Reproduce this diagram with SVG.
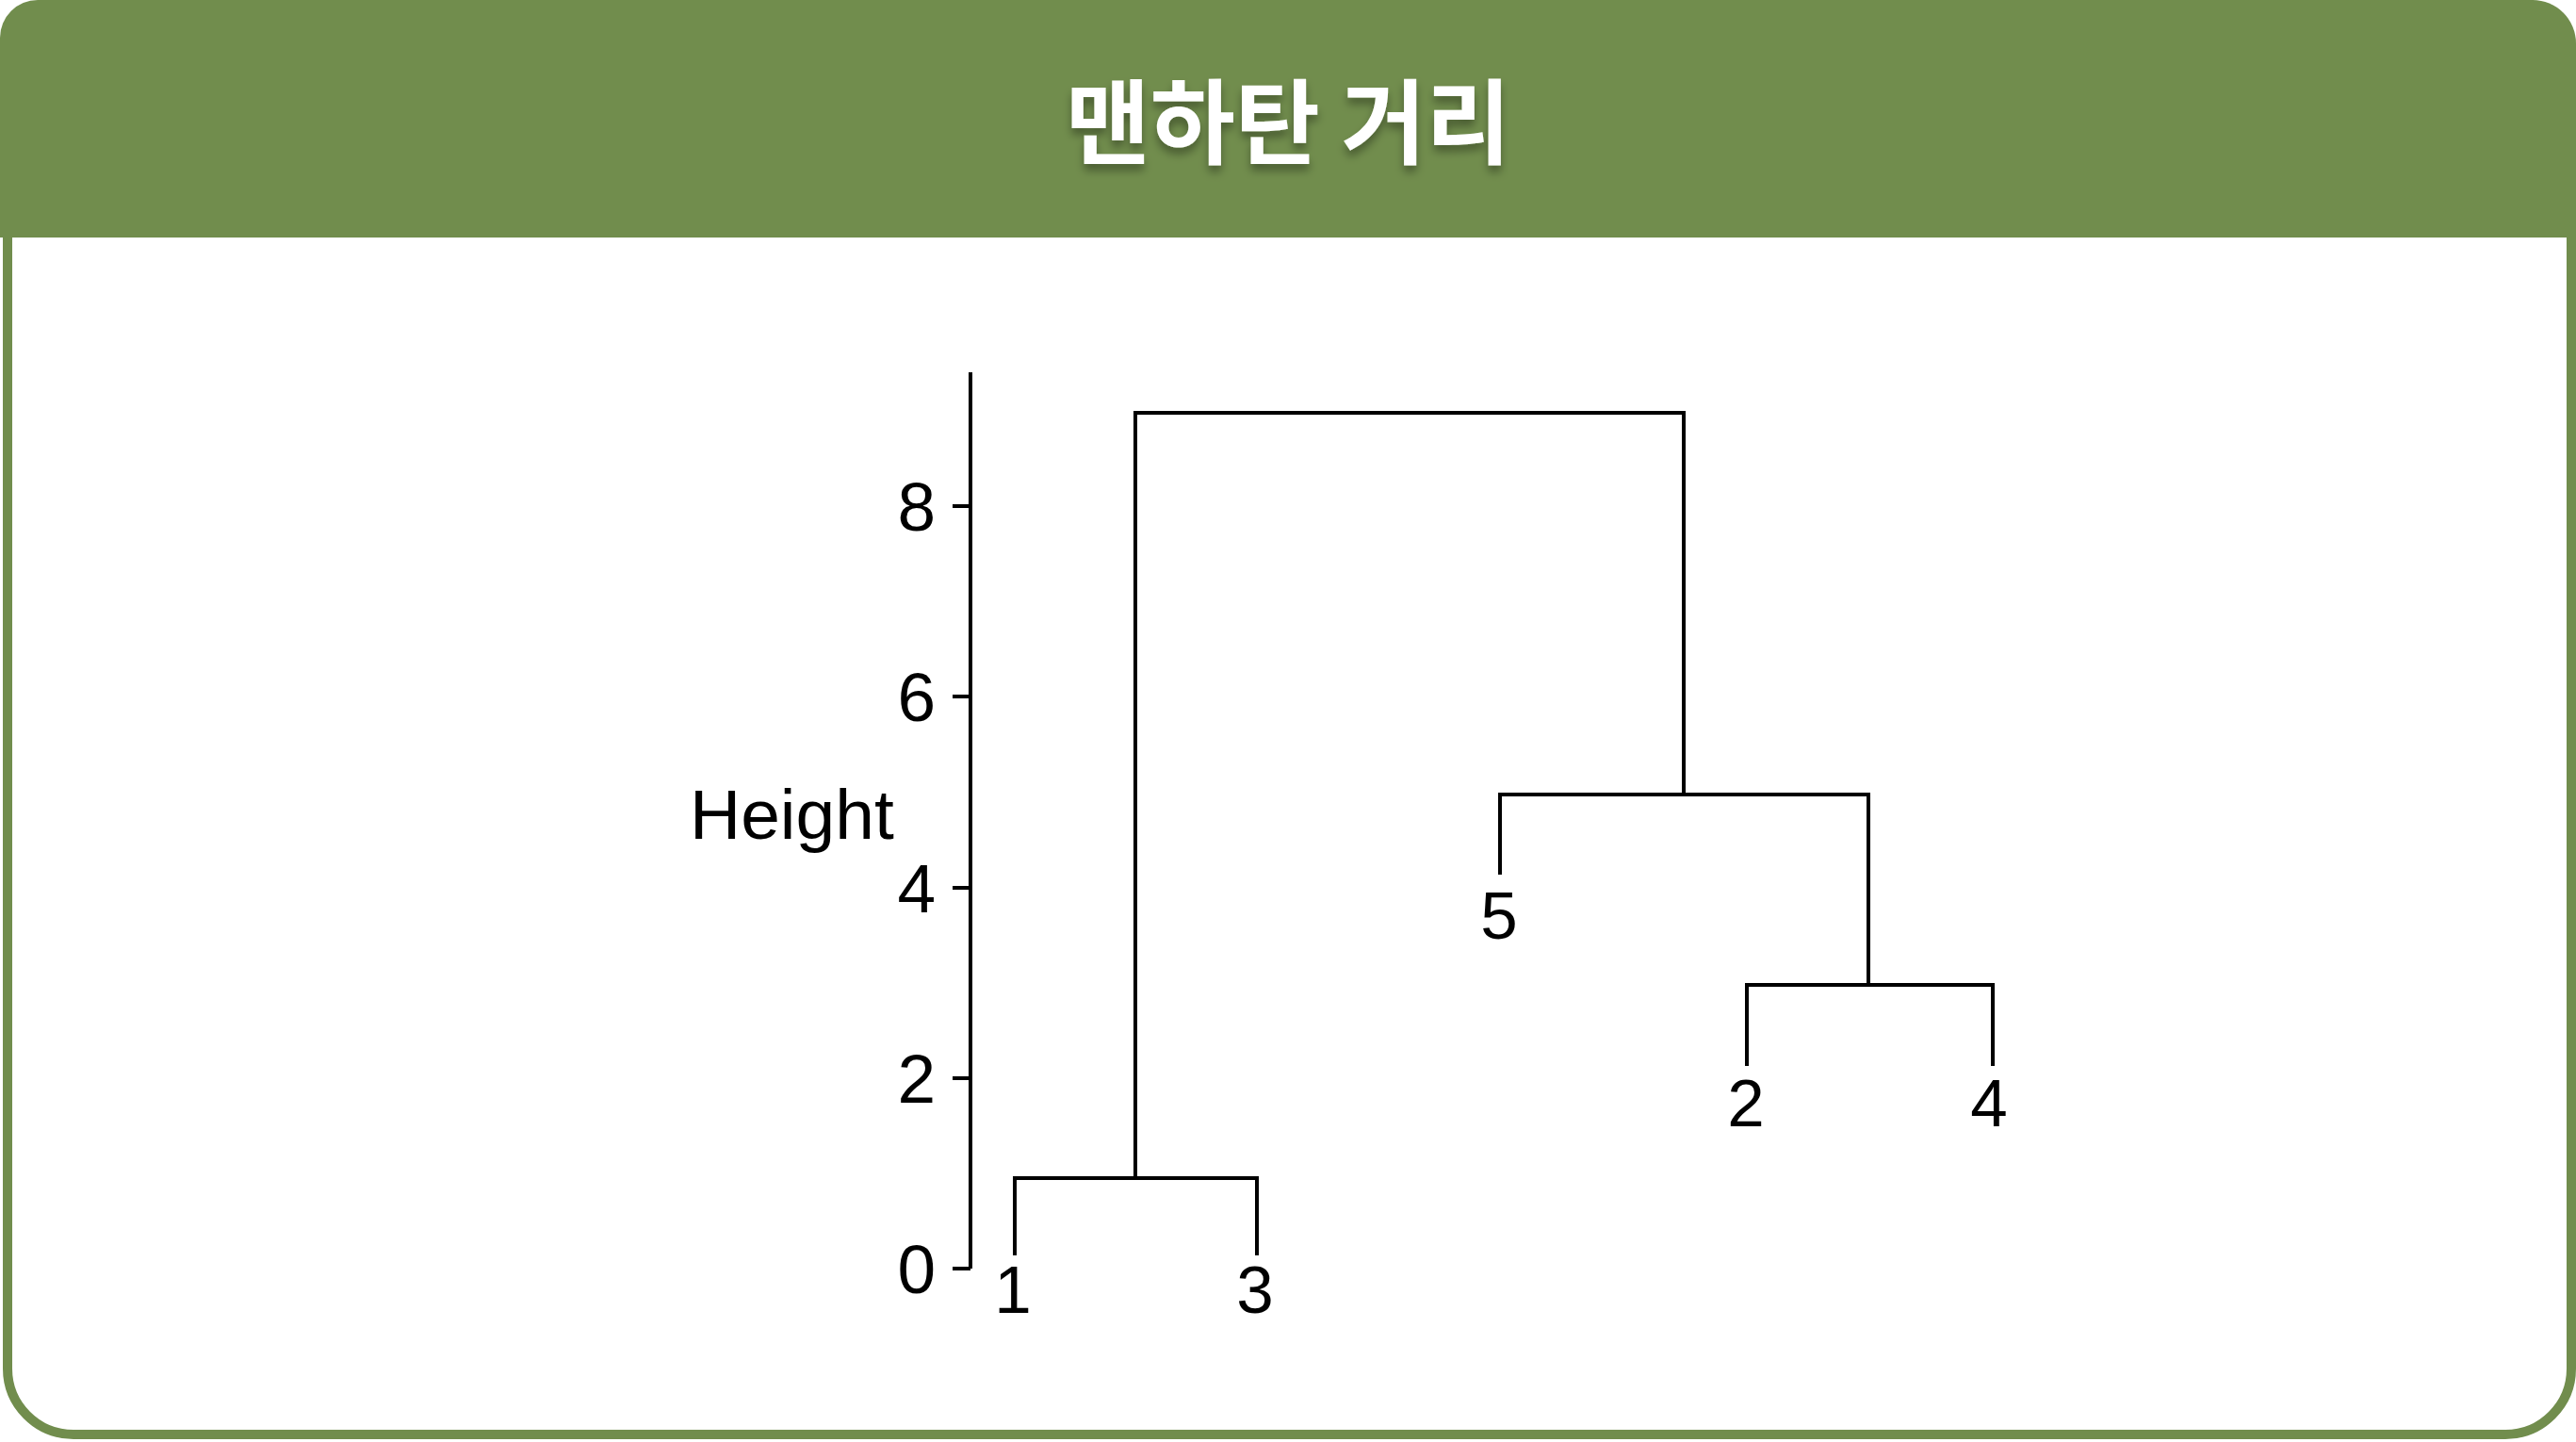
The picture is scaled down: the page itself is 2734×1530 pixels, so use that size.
<svg xmlns="http://www.w3.org/2000/svg" width="2734" height="1530" viewBox="0 0 2734 1530">
  <defs>
    <filter id="titleShadow" x="-10%" y="-30%" width="120%" height="180%">
      <feDropShadow dx="0" dy="7" stdDeviation="5" flood-color="#000000" flood-opacity="0.35"/>
    </filter>
  </defs>
  <style>
    .frame { fill: #ffffff; stroke: #718d4d; stroke-width: 10; }
    .header { fill: #718d4d; }
    .title { font-family: "Noto Sans CJK KR", "Noto Sans", sans-serif; font-weight: 700; font-size: 98px; fill: #ffffff; }
    .axis { stroke: #000000; stroke-width: 4; fill: none; }
    .tree { stroke: #000000; stroke-width: 4; fill: none; stroke-linecap: square; }
    .tick { font-family: "Liberation Sans", Arial, sans-serif; font-size: 73px; fill: #000000; }
    .leaf { font-family: "Liberation Sans", Arial, sans-serif; font-size: 71px; fill: #000000; text-anchor: middle; }
  </style>

  <rect x="0" y="0" width="2734" height="1530" fill="#ffffff"/>

  <g id="frame">
    <rect class="frame" x="8" y="60" width="2721" height="1462" rx="70" ry="70"/>
    <path class="header" d="M0,252 L0,40 A40,40 0 0 1 40,0 L2688,0 A46,46 0 0 1 2734,46 L2734,252 Z"/>
    <text class="title" x="1367" y="166" text-anchor="middle" filter="url(#titleShadow)">맨하탄 거리</text>
  </g>

  <g id="axis">
    <path class="axis" d="M1030,395 L1030,1346 M1011,537 L1030,537 M1011,739 L1030,739 M1011,942 L1030,942 M1011,1144 L1030,1144 M1011,1346 L1030,1346"/>
    <text class="tick" x="993" y="563" text-anchor="end">8</text>
    <text class="tick" x="993" y="765" text-anchor="end">6</text>
    <text class="tick" x="993" y="968" text-anchor="end">4</text>
    <text class="tick" x="993" y="1170" text-anchor="end">2</text>
    <text class="tick" x="993" y="1372" text-anchor="end">0</text>
    <text class="tick" x="732" y="890" style="font-size:75px">Height</text>
  </g>

  <g id="connectors">
    <path class="tree" d="M1205,1250 L1205,438 L1787,438 L1787,843"/>
    <path class="tree" d="M1077,1330 L1077,1250 L1334,1250 L1334,1330"/>
    <path class="tree" d="M1592,926 L1592,843 L1983,843 L1983,1045"/>
    <path class="tree" d="M1854,1129 L1854,1045 L2115,1045 L2115,1129"/>
  </g>

  <g id="leaf-1"><text class="leaf" x="1075" y="1393">1</text></g>
  <g id="leaf-3"><text class="leaf" x="1332" y="1393">3</text></g>
  <g id="leaf-5"><text class="leaf" x="1591" y="996">5</text></g>
  <g id="leaf-2"><text class="leaf" x="1853" y="1195">2</text></g>
  <g id="leaf-4"><text class="leaf" x="2111" y="1195">4</text></g>
</svg>
